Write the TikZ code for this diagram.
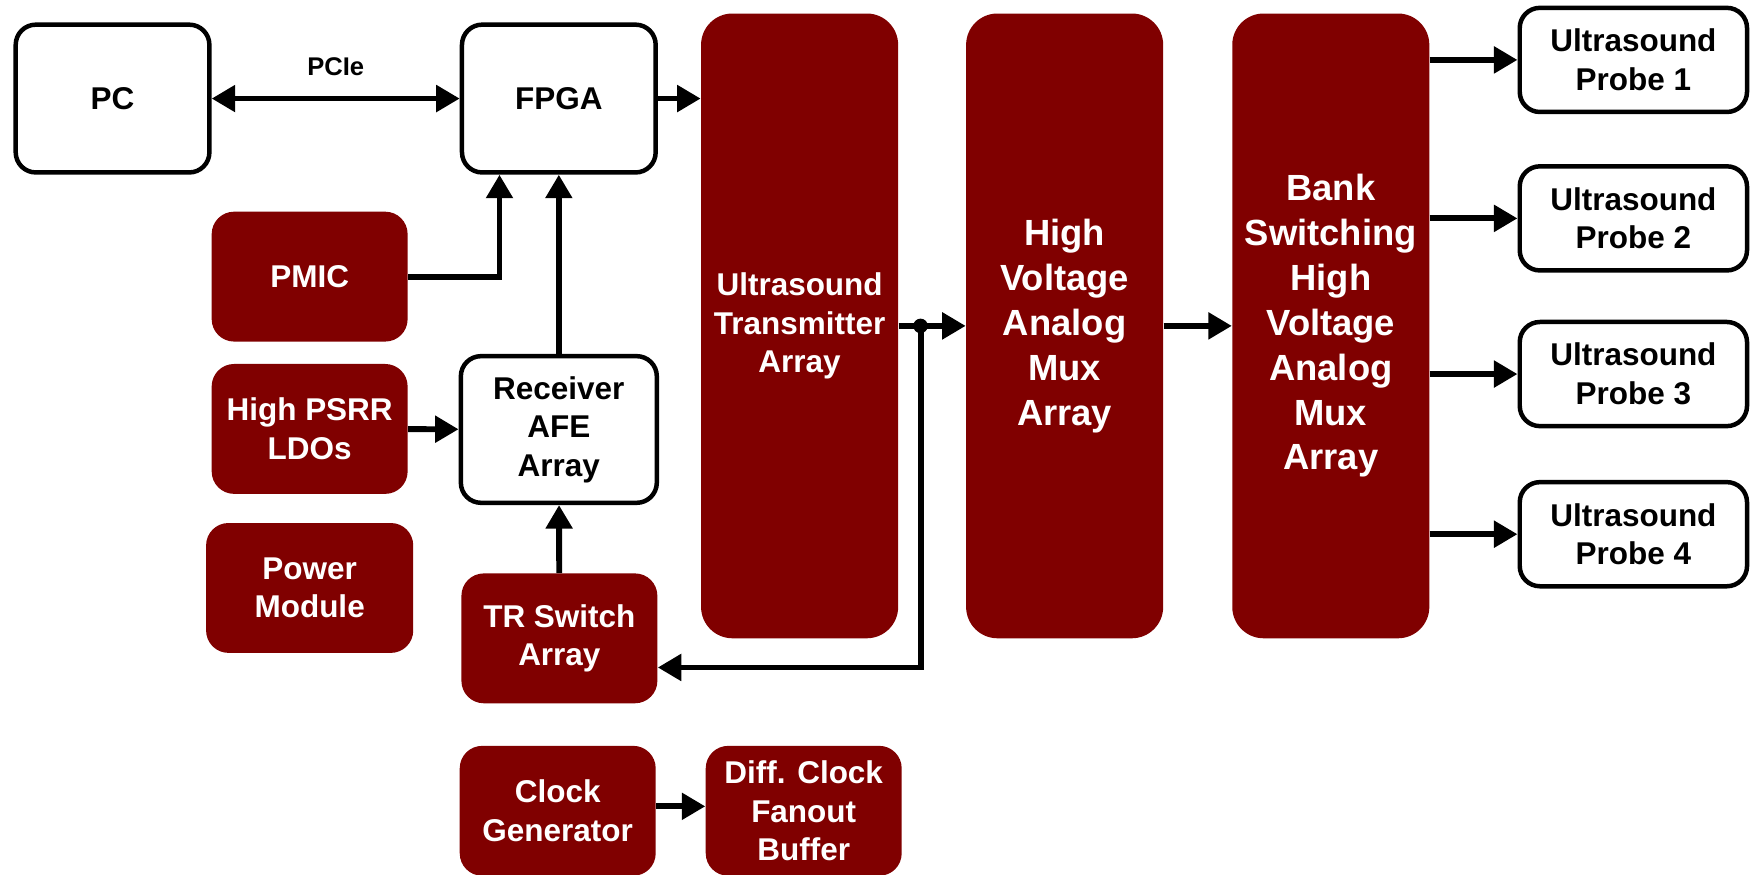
\documentclass[tikz,border=0pt]{standalone}
\usepackage{fontspec}
\setmainfont{Liberation Sans}
\definecolor{maroon}{RGB}{128, 0, 0}
\usetikzlibrary{arrows.meta, positioning, calc}
\tikzset{
    whitebox/.style={
        rectangle, rounded corners=0.36cm,
        minimum width=3.46cm, minimum height=2.64cm,
        draw=black, fill=white, text=black,
        font=\fontsize{16}{19.6}\selectfont\bfseries, align=center, line width=0.08cm
    },
    redbox/.style={
        rectangle, rounded corners=0.4cm,
        minimum width=3.5cm, minimum height=2.32cm,
        fill=maroon, text=white,
        font=\fontsize{16}{19.6}\selectfont\bfseries, align=center
    },
    tallbox/.style={
        redbox, rounded corners=0.56cm, inner sep=0pt,
        minimum width=3.52cm, minimum height=11.16cm
    },
    bigtext/.style={font=\fontsize{18.5}{22.8}\selectfont\bfseries},
    probe/.style={whitebox, minimum width=4.06cm, minimum height=1.86cm},
    arrow/.style={-{Triangle[length=0.42cm, width=0.46cm]}, line width=0.105cm},
    dblarrow/.style={arrow, {Triangle[length=0.42cm, width=0.46cm]}-{Triangle[length=0.42cm, width=0.46cm]}},
    anno/.style={font=\fontsize{13}{15}\selectfont\bfseries}
}
\begin{document}
\begin{tikzpicture}[x=0.02cm, y=-0.02cm]

    \useasboundingbox (0,0) rectangle (1568,781);
    \clip (0,0) rectangle (1568,781);

    % Host side
    \node[whitebox] (pc) at (100.5,88) {PC};
    \node[whitebox] (fpga) at (499,88) {FPGA};
    \node[anno, above=0.28cm of $(pc.east)!0.5!(fpga.west)$] (pcie) {PCIe};

    % Transmit chain
    \node[tallbox] (tx) at (714,291) {Ultrasound\\Transmitter\\Array};
    \node[tallbox, bigtext, right=1.2cm of tx] (hvmux) {High\\Voltage\\Analog\\Mux\\Array};
    \node[tallbox, bigtext, right=1.22cm of hvmux] (bank) {Bank\\Switching\\High\\Voltage\\Analog\\Mux\\Array};

    % Probes
    \node[probe] (p1) at (1458.5,53.5) {Ultrasound\\Probe 1};
    \node[probe] (p2) at (1458.5,195) {Ultrasound\\Probe 2};
    \node[probe] (p3) at (1458.5,334) {Ultrasound\\Probe 3};
    \node[probe] (p4) at (1458.5,477) {Ultrasound\\Probe 4};

    % Power and receive side
    \node[redbox] (pmic) at (276.5,247) {PMIC};
    \node[redbox] (ldo) at (276.5,383) {High PSRR\\LDOs};
    \node[redbox, minimum width=3.7cm] (power) at (276.5,525) {Power\\Module};
    \node[whitebox, minimum width=3.5cm, minimum height=2.62cm] (rx) at (499,383.5) {Receiver\\AFE\\Array};
    \node[redbox] (tr) at (499.5,570) {TR Switch\\Array};

    % Clocking
    \node[redbox] (clk) at (498,724) {Clock\\Generator};
    \node[redbox, right=0.88cm of clk] (fanout) {Diff. Clock\\Fanout\\Buffer};

    % Connections
    \draw[dblarrow] (pc) -- (fpga);
    \draw[arrow] (fpga.east) -- (fpga.east -| tx.west);
    \draw[arrow] (pmic.east) -| ([xshift=-1.06cm]fpga.south);
    \draw[arrow] (rx) -- (fpga);
    \draw[arrow] (ldo) -- (rx);
    \draw[arrow] (tr) -- (rx);
    \draw[arrow] (clk.east) ++(0,-4) -- (fanout.west |- 0,720);

    \draw[arrow] (tx) -- (hvmux);
    \draw[arrow] (hvmux) -- (bank);
    \coordinate (split) at (822,291);
    \coordinate (bend) at (822,596);
    \fill (split) circle (0.13cm);
    \draw[arrow] (split) -- (bend) -- (bend -| tr.east);

    \foreach \p in {p1,p2,p3,p4}
        \draw[arrow] (bank.east |- \p) -- (\p.west);

\end{tikzpicture}
\end{document}
